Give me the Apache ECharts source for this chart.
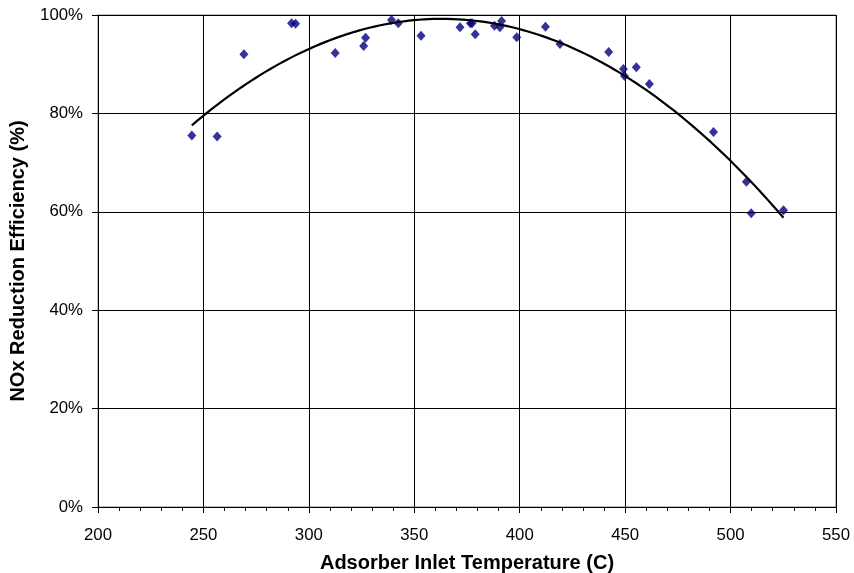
<!DOCTYPE html>
<html>
<head>
<meta charset="utf-8">
<script src="https://cdn.jsdelivr.net/npm/echarts@6/dist/echarts.min.js"></script>
<style>
html,body{margin:0;padding:0;background:#fff;}
#chart{width:854px;height:573px;}
</style>
</head>
<body>
<div id="chart"></div>
<script>
// Adsorber inlet temperature (C)
var temperatures = [244.5, 256.5, 269.2, 291.8, 293.7, 312.5, 326.0, 326.9, 339.2, 342.4,
  353.2, 371.7, 376.6, 377.4, 378.9, 388.0, 390.6, 391.4, 398.6, 412.2, 419.1,
  442.2, 449.2, 449.7, 455.3, 461.5, 491.9, 507.5, 509.8, 525.1];
// NOx reduction efficiency (%)
var efficiencies = [75.5, 75.3, 92.0, 98.3, 98.2, 92.3, 93.7, 95.4, 99.0, 98.3,
  95.8, 97.5, 98.3, 98.3, 96.1, 97.8, 97.5, 98.8, 95.5, 97.6, 94.1,
  92.5, 89.0, 87.6, 89.4, 86.0, 76.2, 66.1, 59.7, 60.3];
var xTicks = [200, 250, 300, 350, 400, 450, 500, 550];
var yTicks = [0, 20, 40, 60, 80, 100];

var points = temperatures.map(function (t, i) { return [t, efficiencies[i]]; });

// Second-order polynomial trendline (least squares fit of the data)
function quadFit(xs, ys) {
  var n = xs.length, mx = 0;
  xs.forEach(function (v) { mx += v; }); mx /= n;
  var S = [0,0,0,0,0], T = [0,0,0];
  for (var i = 0; i < n; i++) {
    var u = xs[i] - mx, p = 1;
    for (var k = 0; k < 5; k++) { S[k] += p; if (k < 3) T[k] += p * ys[i]; p *= u; }
  }
  var A = [[S[0],S[1],S[2],T[0]],[S[1],S[2],S[3],T[1]],[S[2],S[3],S[4],T[2]]];
  for (var c = 0; c < 3; c++) {
    for (var r = c + 1; r < 3; r++) {
      var f = A[r][c] / A[c][c];
      for (var j = c; j < 4; j++) A[r][j] -= f * A[c][j];
    }
  }
  var b = [0,0,0];
  for (var r2 = 2; r2 >= 0; r2--) {
    var s = A[r2][3];
    for (var j2 = r2 + 1; j2 < 3; j2++) s -= A[r2][j2] * b[j2];
    b[r2] = s / A[r2][r2];
  }
  return function (x) { var u = x - mx; return b[0] + b[1] * u + b[2] * u * u; };
}
var fit = quadFit(temperatures, efficiencies);
var xmin = Math.min.apply(null, temperatures), xmax = Math.max.apply(null, temperatures);
var trend = [];
for (var i = 0; i <= 120; i++) {
  var x = xmin + (xmax - xmin) * i / 120;
  trend.push([x, fit(x)]);
}

var font = 'Liberation Sans, Arial, sans-serif';
var chart = echarts.init(document.getElementById('chart'), null, {renderer: 'canvas'});
chart.setOption({
  backgroundColor: '#ffffff',
  animation: false,
  grid: {left: 98, right: 18, top: 15, bottom: 66, containLabel: false, outerBoundsMode: 'none',
    show: true, borderColor: '#808080', borderWidth: 1, backgroundColor: 'transparent'},
  xAxis: {
    type: 'value', min: xTicks[0], max: xTicks[xTicks.length - 1], interval: 50,
    name: 'Adsorber Inlet Temperature (C)', nameLocation: 'middle', nameGap: 46,
    nameTextStyle: {fontFamily: font, fontSize: 20, fontWeight: 'bold', color: '#000'},
    axisLine: {show: true, onZero: false, lineStyle: {color: '#000', width: 1}},
    axisTick: {show: true, length: 6, lineStyle: {color: '#000'}},
    minorTick: {show: true, splitNumber: 5, length: 4, lineStyle: {color: '#000'}},
    axisLabel: {fontFamily: font, fontSize: 16.8, color: '#000', margin: 20},
    splitLine: {show: true, lineStyle: {color: '#000', width: 1}}
  },
  yAxis: {
    type: 'value', min: yTicks[0], max: yTicks[yTicks.length - 1], interval: 20,
    name: 'NOx Reduction Efficiency (%)', nameLocation: 'middle', nameGap: 70,
    nameTextStyle: {fontFamily: font, fontSize: 20, fontWeight: 'bold', color: '#000'},
    axisLine: {show: true, lineStyle: {color: '#000', width: 1}},
    axisTick: {show: true, length: 6, lineStyle: {color: '#000'}},
    axisLabel: {fontFamily: font, fontSize: 16.8, color: '#000', margin: 15, formatter: '{value}%'},
    splitLine: {show: true, lineStyle: {color: '#000', width: 1}}
  },
  series: [
    {
      type: 'scatter', data: points, symbol: 'diamond', symbolSize: [9, 10],
      itemStyle: {color: '#000080'}, z: 3
    },
    {
      type: 'line', data: trend, showSymbol: false, symbol: 'none',
      lineStyle: {color: '#000', width: 2.2}, z: 4
    }
  ]
});
</script>
</body>
</html>
